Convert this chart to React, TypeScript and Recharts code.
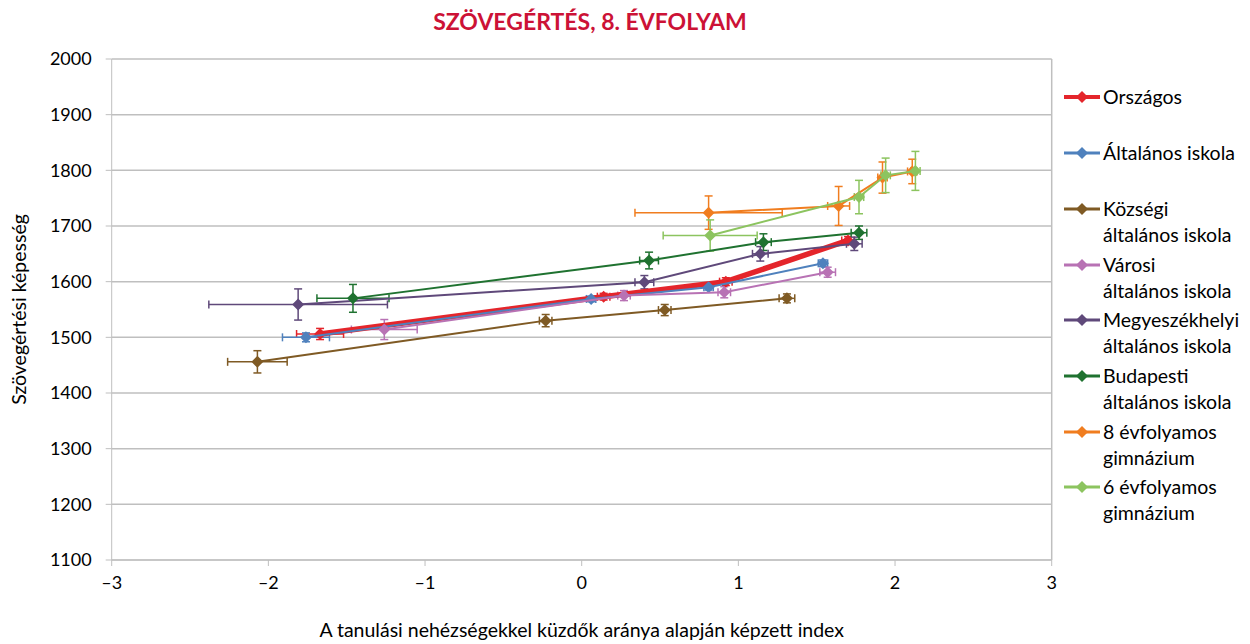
import React from "react";
import {
  ScatterChart,
  Scatter,
  XAxis,
  YAxis,
  CartesianGrid,
  ErrorBar,
  ReferenceLine,
} from "recharts";

interface Point {
  x: number;
  y: number;
  ex: number;
  ey: number;
}

const xTicks = [-3, -2, -1, 0, 1, 2, 3];
const yTicks = [1100, 1200, 1300, 1400, 1500, 1600, 1700, 1800, 1900, 2000];

const orszagos: Point[] = [
  { x: -1.67, y: 1506, ex: 0.15, ey: 10 },
  { x: 0.14, y: 1573, ex: 0.04, ey: 6 },
  { x: 0.92, y: 1600, ex: 0.04, ey: 7 },
  { x: 1.7, y: 1674, ex: 0.04, ey: 7 },
];
const altalanos: Point[] = [
  { x: -1.76, y: 1500, ex: 0.15, ey: 8 },
  { x: 0.06, y: 1569, ex: 0.03, ey: 5 },
  { x: 0.81, y: 1590, ex: 0.03, ey: 5 },
  { x: 1.54, y: 1633, ex: 0.03, ey: 6 },
];
const kozsegi: Point[] = [
  { x: -2.07, y: 1456, ex: 0.19, ey: 20 },
  { x: -0.23, y: 1530, ex: 0.04, ey: 11 },
  { x: 0.53, y: 1549, ex: 0.04, ey: 10 },
  { x: 1.31, y: 1570, ex: 0.05, ey: 8 },
];
const varosi: Point[] = [
  { x: -1.26, y: 1514, ex: 0.21, ey: 18 },
  { x: 0.27, y: 1575, ex: 0.04, ey: 9 },
  { x: 0.91, y: 1581, ex: 0.04, ey: 10 },
  { x: 1.57, y: 1617, ex: 0.05, ey: 9 },
];
const megyeszekhelyi: Point[] = [
  { x: -1.81, y: 1559, ex: 0.57, ey: 28 },
  { x: 0.4, y: 1599, ex: 0.06, ey: 12 },
  { x: 1.14, y: 1650, ex: 0.05, ey: 13 },
  { x: 1.74, y: 1668, ex: 0.05, ey: 12 },
];
const budapesti: Point[] = [
  { x: -1.46, y: 1570, ex: 0.23, ey: 25 },
  { x: 0.43, y: 1638, ex: 0.06, ey: 15 },
  { x: 1.16, y: 1671, ex: 0.05, ey: 15 },
  { x: 1.77, y: 1688, ex: 0.05, ey: 12 },
];
const gimn8: Point[] = [
  { x: 0.81, y: 1724, ex: 0.47, ey: 30 },
  { x: 1.64, y: 1736, ex: 0.07, ey: 35 },
  { x: 1.92, y: 1787, ex: 0.03, ey: 28 },
  { x: 2.11, y: 1798, ex: 0.03, ey: 22 },
];
const gimn6: Point[] = [
  { x: 0.82, y: 1683, ex: 0.3, ey: 28 },
  { x: 1.77, y: 1752, ex: 0.03, ey: 30 },
  { x: 1.94, y: 1791, ex: 0.03, ey: 31 },
  { x: 2.13, y: 1799, ex: 0.03, ey: 35 },
];

const seriesData = [orszagos, altalanos, kozsegi, varosi, megyeszekhelyi, budapesti, gimn8, gimn6];
const seriesNames = [
  ["Országos"],
  ["Általános iskola"],
  ["Községi", "általános iskola"],
  ["Városi", "általános iskola"],
  ["Megyeszékhelyi", "általános iskola"],
  ["Budapesti", "általános iskola"],
  ["8 évfolyamos", "gimnázium"],
  ["6 évfolyamos", "gimnázium"],
];

const colors = ["#e4252b", "#4f81bd", "#7f5a24", "#b872b4", "#5f497a", "#1f7230", "#f07d1f", "#8cc45f"];
const lineWidths = [5.5, 2, 2, 2, 2, 2, 2, 2];
const legendTops = [89, 145, 201, 257, 312, 368, 424, 479];

const diamond = (color: string, r: number) => (props: any) => {
  const { cx, cy } = props;
  if (cx == null || cy == null) return <g />;
  return (
    <path
      d={`M${cx},${cy - r}L${cx + r},${cy}L${cx},${cy + r}L${cx - r},${cy}Z`}
      fill={color}
    />
  );
};

const fmt = (v: number) => (v < 0 ? `\u2013${-v}` : `${v}`);

const App: React.FC = () => {
  return (
    <div style={{ position: "relative", width: 1234, height: 636, fontFamily: "Lato" }}>
      <ScatterChart
        width={1060}
        height={636}
        margin={{ top: 51, right: 16.3, bottom: 0, left: 0 }}
      >
        <CartesianGrid vertical={false} stroke="#bfbfbf" strokeWidth={1.5} />
        <XAxis
          type="number"
          dataKey="x"
          domain={[-3, 3]}
          ticks={xTicks}
          tickFormatter={fmt}
          height={84}
          stroke="#bfbfbf"
          tick={{ fontSize: 18, fill: "#000" }}
          tickMargin={10}
          label={{
            value: "A tanulási nehézségekkel küzdők aránya alapján képzett index",
            position: "insideBottom",
            offset: 7,
            fontSize: 19.5,
            fill: "#000",
          }}
        />
        <YAxis
          type="number"
          dataKey="y"
          domain={[1100, 2000]}
          ticks={yTicks}
          width={103.7}
          stroke="#bfbfbf"
          tick={{ fontSize: 18, fill: "#000" }}
          tickMargin={14}
          label={{
            value: "Szövegértési képesség",
            angle: -90,
            position: "insideLeft",
            offset: 11,
            fontSize: 19.5,
            fill: "#000",
            style: { textAnchor: "middle" },
          }}
        />
        <ReferenceLine x={3} stroke="#bfbfbf" strokeWidth={1.5} />
        {seriesData.map((data, i) => (
          <Scatter
            key={i}
            name={seriesNames[i].join(" ")}
            data={data}
            fill={colors[i]}
            line={{ stroke: colors[i], strokeWidth: lineWidths[i] }}
            shape={diamond(colors[i], 6)}
            isAnimationActive={false}
          >
            <ErrorBar dataKey="ex" direction="x" width={4} stroke={colors[i]} strokeWidth={1.5} />
            <ErrorBar dataKey="ey" direction="y" width={4} stroke={colors[i]} strokeWidth={1.5} />
          </Scatter>
        ))}
      </ScatterChart>
      <div
        style={{
          position: "absolute",
          zIndex: 2,
          left: 332,
          width: 500,
          top: -1,
          textAlign: "center",
          color: "#cc1236",
          fontWeight: 700,
          fontSize: 23,
          lineHeight: "28px",
        }}
      >
        SZÖVEGÉRTÉS, 8. ÉVFOLYAM
      </div>
      <div style={{ position: "absolute", left: 1055, top: 0 }}>
        {seriesNames.map((lines, i) => (
          <div
            key={i}
            style={{
              position: "absolute",
              top: legendTops[i] - 13,
              left: 0,
              width: 180,
              fontSize: 19.5,
              lineHeight: "26px",
              color: "#000",
            }}
          >
            <svg width={38} height={26} style={{ position: "absolute", left: 0, top: 0 }}>
              <line x1={1} y1={13} x2={37} y2={13} stroke={colors[i]} strokeWidth={i === 0 ? 4 : 3} />
              <path d="M19,7L25,13L19,19L13,13Z" fill={colors[i]} />
            </svg>
            <div style={{ marginLeft: 40, whiteSpace: "nowrap" }}>
              {lines.map((l, j) => (
                <div key={j}>{l}</div>
              ))}
            </div>
          </div>
        ))}
      </div>
    </div>
  );
};

export default App;
